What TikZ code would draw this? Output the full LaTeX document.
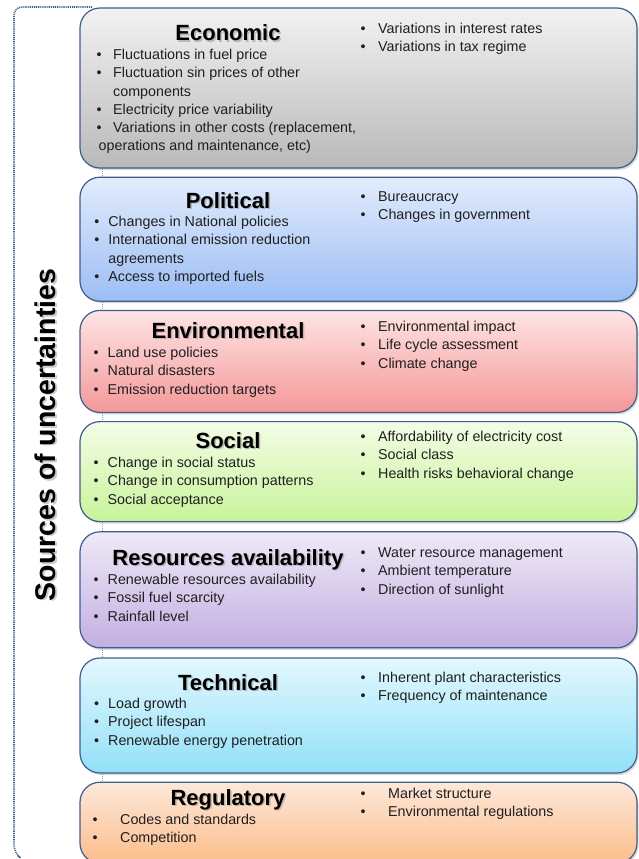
\documentclass[tikz,border=0pt]{standalone}
\usepackage{fontspec}
\setmainfont{Liberation Sans}
\usetikzlibrary{positioning, shadows}

\definecolor{rim}{HTML}{3F5E8C}
\definecolor{ecoT}{HTML}{F2F2F2}\definecolor{ecoB}{HTML}{B9B9B9}
\definecolor{polT}{HTML}{E2ECFC}\definecolor{polB}{HTML}{9CBDF4}
\definecolor{envT}{HTML}{FEE4E4}\definecolor{envB}{HTML}{F49898}
\definecolor{socT}{HTML}{F4FDE6}\definecolor{socB}{HTML}{C8F39A}
\definecolor{resT}{HTML}{EFE9F7}\definecolor{resB}{HTML}{C2AFE1}
\definecolor{tecT}{HTML}{E3F8FE}\definecolor{tecB}{HTML}{92E0F8}
\definecolor{regT}{HTML}{FDE8DA}\definecolor{regB}{HTML}{FBBD8A}

% bullet list: #1 = bullet column width, #2 = rows
\newcommand{\lst}[2]{\begin{tabular}[t]{@{}p{#1}@{}l@{}}#2\end{tabular}}
% heading with its soft shadow
\newcommand{\hd}[4]{%
  \node[headshade] (#1s) at (#2+1.5,#3+1.5) {#4};
  \node[head] (#1) at (#2,#3) {#4};}

\tikzset{
  srcbox/.style={draw=rim, line width=1.2pt, rounded corners=20pt,
    minimum width=557pt, inner sep=0pt,
    drop shadow={opacity=0.3, shadow xshift=1.5pt, shadow yshift=-2pt}},
  head/.style={font=\fontsize{22}{25}\selectfont\bfseries, anchor=base, inner sep=0pt},
  headshade/.style={head, text=black!45, opacity=0.5},
  items/.style={font=\fontsize{14.3}{18.3}\selectfont, text=black!88,
    anchor=base west, inner sep=0pt},
  srctitle/.style={font=\fontsize{28.5}{31}\selectfont\bfseries, rotate=90,
    anchor=base, inner sep=0pt},
  spine/.style={draw=rim!60, densely dotted, line width=1pt},
  bracket/.style={draw=rim, line width=1.6pt,
    dash pattern=on 1pt off 0.9pt, rounded corners=8pt},
}

\begin{document}
\begin{tikzpicture}[x=1pt, y=-1pt]
  \useasboundingbox (0,0) rectangle (639,859);

  % the boxes
  \node[srcbox, top color=ecoT, bottom color=ecoB, minimum height=160pt] (eco) at (358.5,88) {};
  \node[srcbox, top color=polT, bottom color=polB, minimum height=124pt] (pol) [below=8pt of eco] {};
  \node[srcbox, top color=envT, bottom color=envB, minimum height=102pt] (env) [below=8pt of pol] {};
  \node[srcbox, top color=socT, bottom color=socB, minimum height=100pt] (soc) [below=8pt of env] {};
  \node[srcbox, top color=resT, bottom color=resB, minimum height=116pt] (res) [below=9pt of soc] {};
  \node[srcbox, top color=tecT, bottom color=tecB, minimum height=115pt] (tec) [below=9pt of res] {};
  \node[srcbox, top color=regT, bottom color=regB, minimum height=81pt] (reg) [below=8pt of tec] {};

  % dotted link between the boxes
  \coordinate (spine) at (102,0);
  \foreach \a/\b in {eco/pol, pol/env, env/soc, soc/res, res/tec, tec/reg}
    \draw[spine] (\a.south -| spine) -- (\b.north -| spine);

  % left bracket
  \coordinate (brTop) at (92,7);
  \coordinate (brEnd) at (14,853);
  \draw[bracket] (brTop) -| (brEnd) -- ++(4,3);

  \node[srctitle, text=black!40, opacity=0.5] (srcs) at (57,436.5) {Sources of uncertainties};
  \node[srctitle] (src) at (55.5,435) {Sources of uncertainties};

  % Economic
  \hd{ecoH}{228}{41}{Economic}
  \node[items] (ecoL) at (96.5,59.5) {\lst{16.5pt}{
    \textbullet & Fluctuations in fuel price\\
    \textbullet & Fluctuation sin prices of other\\
     & components\\
    \textbullet & Electricity price variability\\
    \textbullet & Variations in other costs (replacement,\\
    \multicolumn{2}{@{\hspace{2pt}}l@{}}{operations and maintenance, etc)}}};
  \node[items] (ecoR) at (360.5,33.5) {\lst{17.5pt}{
    \textbullet & Variations in interest rates\\
    \textbullet & Variations in tax regime}};

  % Political
  \hd{polH}{228}{208}{Political}
  \node[items] (polL) at (94.2,226.5) {\lst{14pt}{
    \textbullet & Changes in National policies\\
    \textbullet & International emission reduction\\
     & agreements\\
    \textbullet & Access to imported fuels}};
  \node[items] (polR) at (360.5,201.5) {\lst{17.5pt}{
    \textbullet & Bureaucracy\\
    \textbullet & Changes in government}};

  % Environmental
  \hd{envH}{228}{338}{Environmental}
  \node[items] (envL) at (93.5,357.5) {\lst{14pt}{
    \textbullet & Land use policies\\
    \textbullet & Natural disasters\\
    \textbullet & Emission reduction targets}};
  \node[items] (envR) at (360.5,331.5) {\lst{17.5pt}{
    \textbullet & Environmental impact\\
    \textbullet & Life cycle assessment\\
    \textbullet & Climate change}};

  % Social
  \hd{socH}{228}{448}{Social}
  \node[items] (socL) at (93.5,467.5) {\lst{14pt}{
    \textbullet & Change in social status\\
    \textbullet & Change in consumption patterns\\
    \textbullet & Social acceptance}};
  \node[items] (socR) at (360.5,441.5) {\lst{17.5pt}{
    \textbullet & Affordability of electricity cost\\
    \textbullet & Social class\\
    \textbullet & Health risks behavioral change}};

  % Resources availability
  \hd{resH}{228}{565}{Resources availability}
  \node[items] (resL) at (93.5,584.5) {\lst{14pt}{
    \textbullet & Renewable resources availability\\
    \textbullet & Fossil fuel scarcity\\
    \textbullet & Rainfall level}};
  \node[items] (resR) at (360.5,557.5) {\lst{17.5pt}{
    \textbullet & Water resource management\\
    \textbullet & Ambient temperature\\
    \textbullet & Direction of sunlight}};

  % Technical
  \hd{tecH}{228}{690}{Technical}
  \node[items] (tecL) at (94,708.5) {\lst{14pt}{
    \textbullet & Load growth\\
    \textbullet & Project lifespan\\
    \textbullet & Renewable energy penetration}};
  \node[items] (tecR) at (360.5,682.5) {\lst{17.5pt}{
    \textbullet & Inherent plant characteristics\\
    \textbullet & Frequency of maintenance}};

  % Regulatory
  \hd{regH}{228}{805}{Regulatory}
  \node[items] (regL) at (92.5,824.5) {\lst{27.5pt}{
    \textbullet & Codes and standards\\
    \textbullet & Competition}};
  \node[items] (regR) at (360.5,798.5) {\lst{27.5pt}{
    \textbullet & Market structure\\
    \textbullet & Environmental regulations}};
\end{tikzpicture}
\end{document}
